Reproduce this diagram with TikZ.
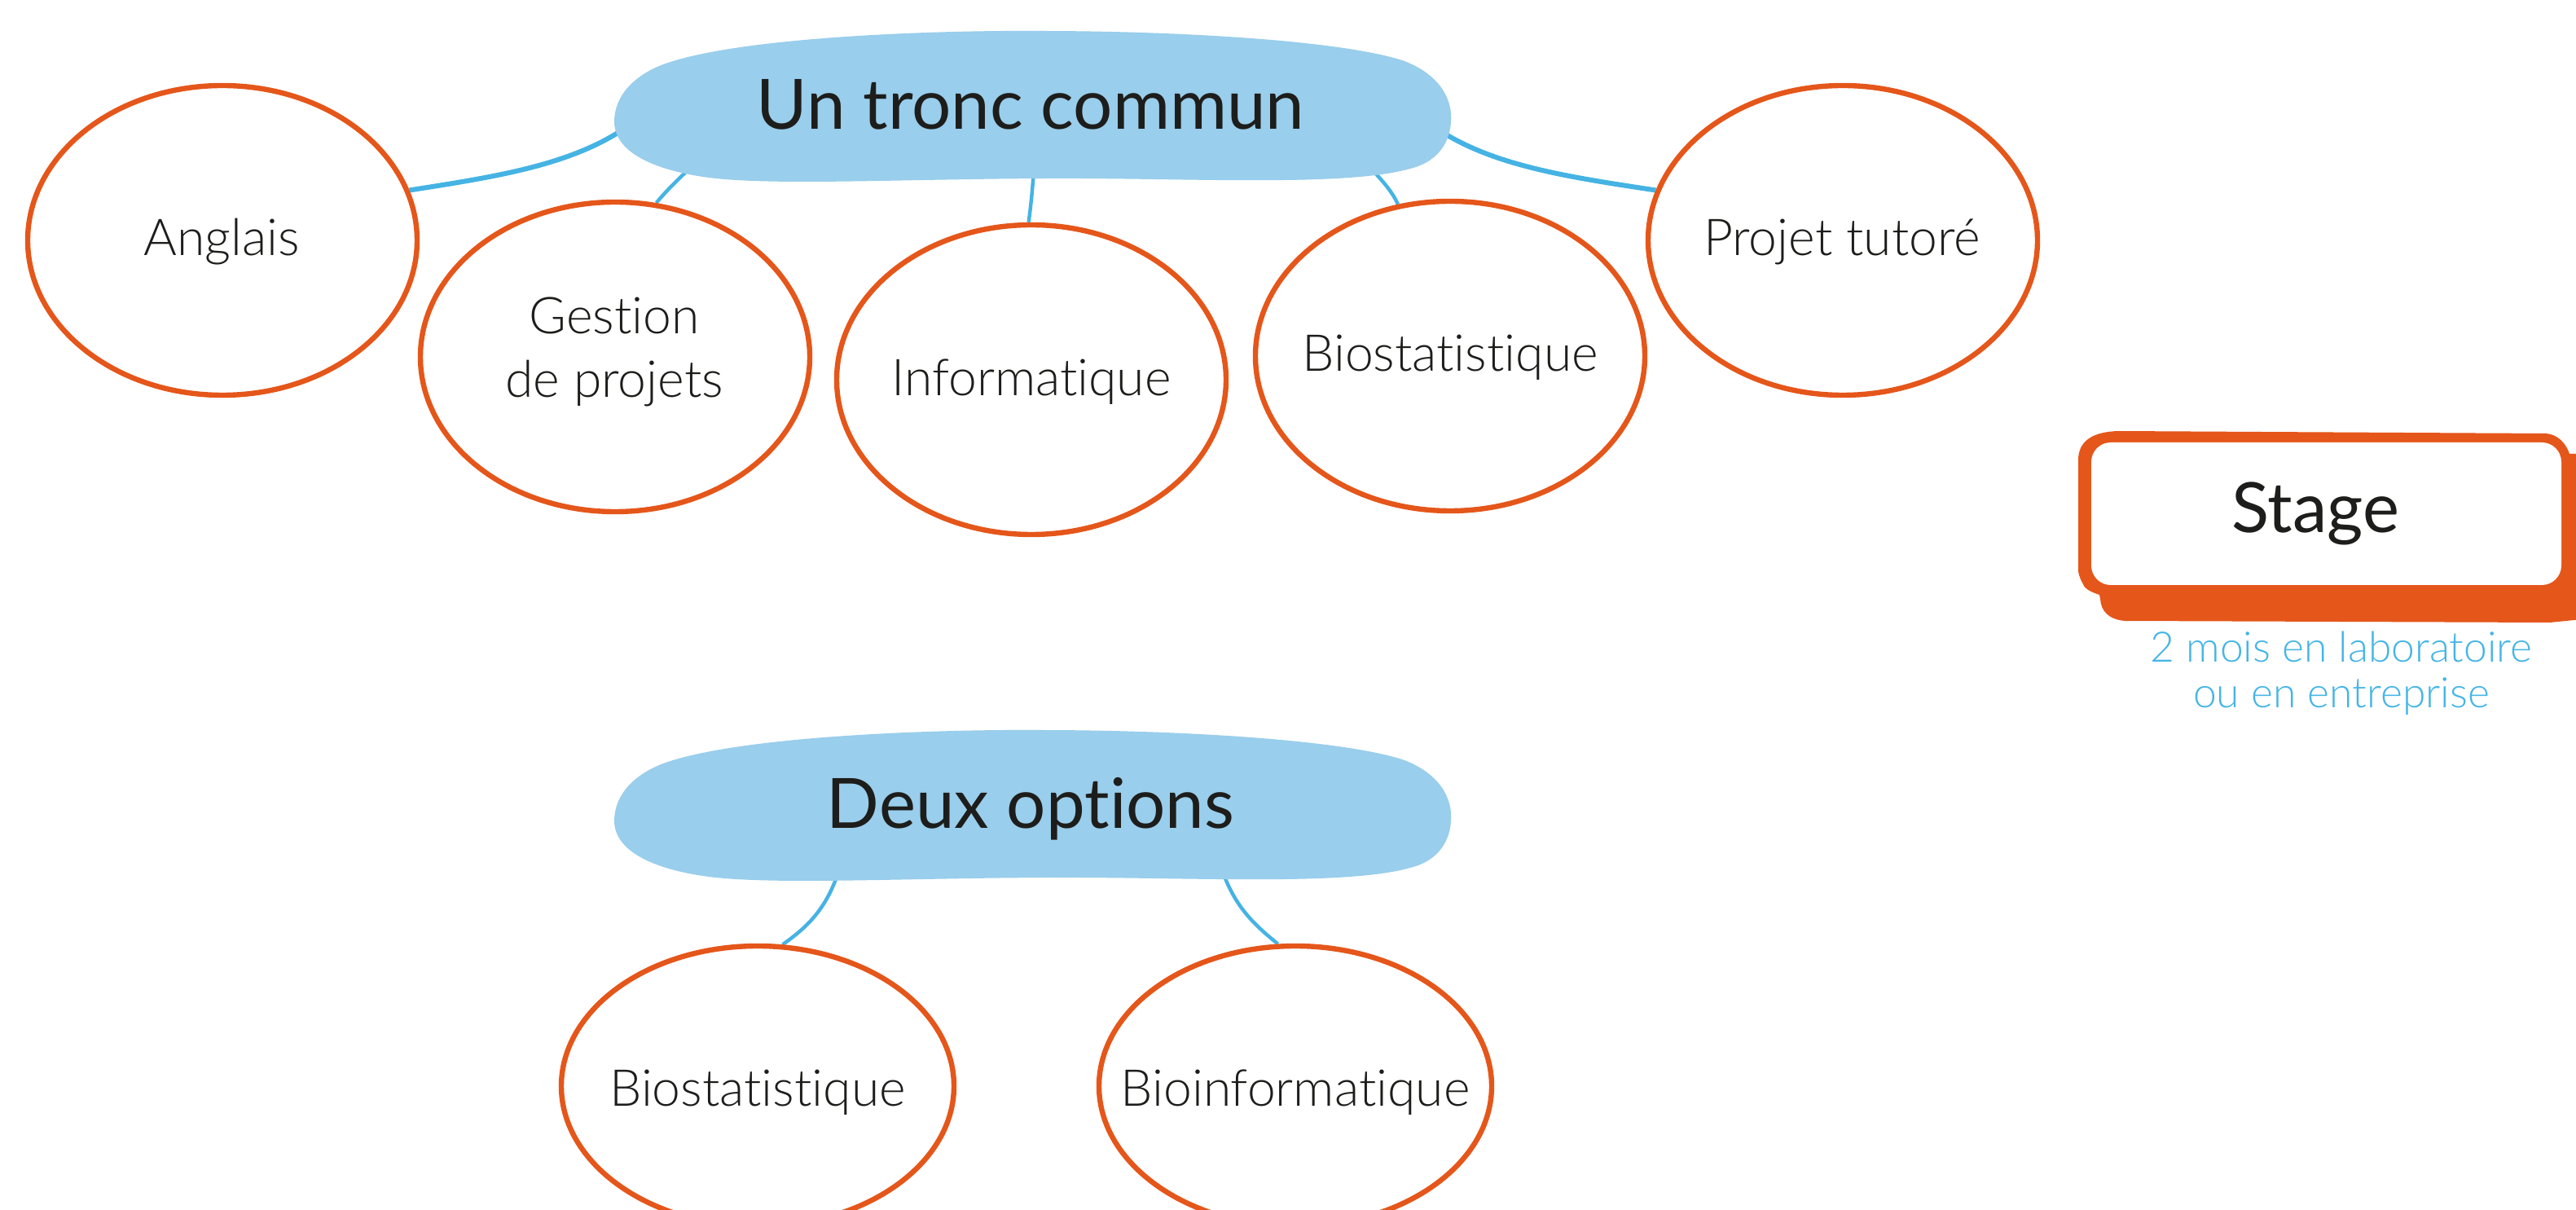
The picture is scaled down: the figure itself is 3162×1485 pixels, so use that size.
\documentclass[tikz,border=0pt]{standalone}
\usepackage{fontspec}
\setmainfont{Lato}[Ligatures={NoCommon}]
\newfontfamily\latolight{Lato Light}[Ligatures={NoCommon}]
\usetikzlibrary{shapes.geometric}
\pgfdeclarelayer{back}
\pgfdeclarelayer{bg}
\pgfsetlayers{back,bg,main}
\definecolor{blobblue}{HTML}{99CEEC}
\definecolor{linkblue}{HTML}{45B3E3}
\definecolor{orng}{HTML}{E5561A}
\definecolor{ink}{HTML}{1D1D1B}
\definecolor{subblue}{HTML}{45B5E6}
\tikzset{
  topic/.style={ellipse, draw=orng, line width=1.6pt, fill=white, inner sep=0pt,
                minimum width=119.5pt, minimum height=95pt},
  optopic/.style={topic, minimum width=120.5pt, minimum height=86pt},
  lbl/.style={anchor=base, inner sep=0pt, text=ink,
              font=\latolight\fontsize{15.6pt}{18pt}\selectfont},
  ttl/.style={anchor=base, inner sep=0pt, text=ink,
              font=\fontsize{21.3pt}{25pt}\selectfont},
  link/.style={draw=linkblue, line width=1.1pt},
  sidelink/.style={link, line width=1.5pt},
  sub/.style={anchor=base, inner sep=0pt, text=subblue,
              font=\latolight\fontsize{12.9pt}{15pt}\selectfont},
}
\newcommand\blobshape{(754,150) .. controls (754,110) and (790,86) .. (823,76)
  .. controls (920,45) and (1150,37) .. (1275,38)
  .. controls (1450,38) and (1650,50) .. (1724,75)
  .. controls (1775,95) and (1783,130) .. (1781,150)
  .. controls (1779,180) and (1760,200) .. (1731,207)
  .. controls (1650,230) and (1450,218) .. (1282,219)
  .. controls (1100,220) and (950,228) .. (870,218)
  .. controls (810,210) and (755,190) .. (754,150) -- cycle}
\begin{document}
\begin{tikzpicture}[x=0.25pt,y=-0.25pt]
\useasboundingbox (0,0) rectangle (3162,1485);
\begin{pgfonlayer}{back}
\fill[white] (0,0) rectangle (3162,1485);
\end{pgfonlayer}

% blobs
\fill[blobblue] \blobshape;
\begin{scope}[shift={(0,858)}]
\fill[blobblue] \blobshape;
\end{scope}
\node[ttl] (tronc) at (1265,159) {Un tronc commun};
\node[ttl] (options) at (1265,1017) {Deux options};

% ellipses
\node[topic] (anglais) at (273,295) {};
\node[topic] (gestion) at (755,438) {};
\node[topic] (info) at (1266,466) {};
\node[topic] (biostat) at (1780,437) {};
\node[topic] (projet) at (2262,295) {};
\node[optopic] (biostatB) at (930,1333) {};
\node[optopic] (bioinfo) at (1590,1333) {};

\node[lbl] (tAnglais) at (272,314) {Anglais};
\node[lbl] (tGest1) at (754,410) {Gestion};
\node[lbl] (tGest2) at (754,488) {de projets};
\node[lbl] (tInfo) at (1266,486) {Informatique};
\node[lbl] (tBiostat) at (1780,456) {Biostatistique};
\node[lbl] (tProjet) at (2261,314) {Projet tutoré};
\node[lbl] (tBiostatB) at (930,1358) {Biostatistique};
\node[lbl] (tBioinfo) at (1590,1358) {Bioinformatique};

% connectors
\begin{pgfonlayer}{bg}
\coordinate (cA) at (790,140);
\coordinate (cG) at (885,170);
\coordinate (cI) at (1270,190);
\coordinate (cB) at (1645,170);
\coordinate (cP) at (1740,140);
\coordinate (cD1) at (1035,1050);
\coordinate (cD2) at (1495,1050);
\draw[sidelink] (cA) .. controls (720,200) and (620,215) .. (anglais.15);
\draw[link] (cG) .. controls (860,195) and (825,225) .. (gestion.75);
\draw[link] (cI) .. controls (1268,230) and (1265,255) .. (info.91);
\draw[link] (cB) .. controls (1670,195) and (1705,225) .. (biostat.109);
\draw[sidelink] (cP) .. controls (1810,200) and (1910,215) .. (projet.165);
\draw[link] (cD1) .. controls (1020,1110) and (995,1135) .. (biostatB.80);
\draw[link] (cD2) .. controls (1510,1110) and (1540,1135) .. (bioinfo.97);
\end{pgfonlayer}

% stage box
\fill[orng] (2551,700) -- (2551,565) .. controls (2551,540) and (2570,530) .. (2600,529)
  -- (3125,532) .. controls (3140,533) and (3150,545) .. (3154,557) -- (3170,557)
  -- (3170,760) -- (3130,764) -- (2608,762) .. controls (2588,760) and (2579,750) .. (2578,735)
  -- (2577,730) .. controls (2565,726) and (2558,722) .. (2556,715)
  .. controls (2552,708) and (2551,702) .. cycle;
\fill[white, rounded corners=6pt] (2567,543) rectangle (3144,718);
\node[ttl] (stage) at (2842,654) {Stage};
\node[sub] (sub1) at (2874,813) {2 mois en laboratoire};
\node[sub] (sub2) at (2874,869) {ou en entreprise};
\end{tikzpicture}
\end{document}
